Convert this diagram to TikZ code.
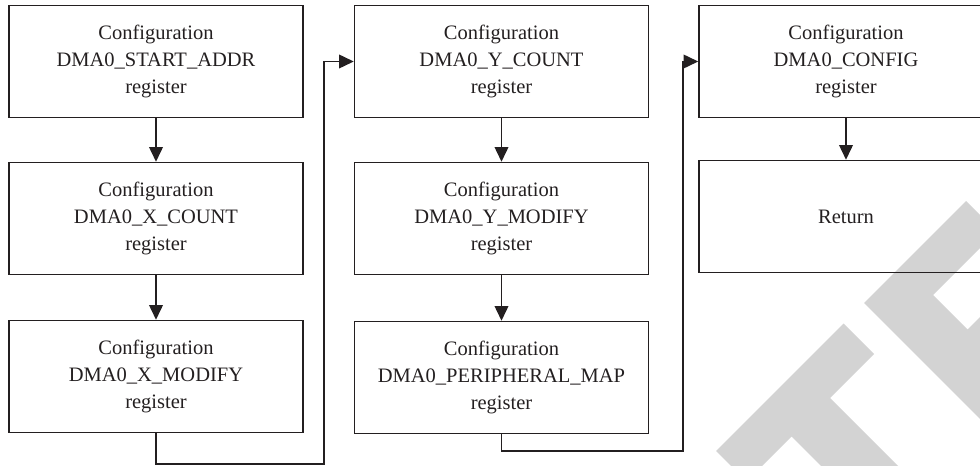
\documentclass[tikz,border=0pt]{standalone}
\usepackage{fontspec}
\setmainfont{Liberation Serif}
\usetikzlibrary{arrows.meta}
\definecolor{ink}{RGB}{35,31,32}
\definecolor{wmgray}{RGB}{211,211,211}

\begin{document}
\begin{tikzpicture}[x=0.3mm,y=-0.3mm,
  font=\fontsize{17.5}{23}\selectfont,
  stepbox/.style={draw=ink, line width=1.3pt, minimum width=88.2mm,
    minimum height=33.6mm, inner sep=0pt, align=center, text=ink},
  flow/.style={draw=ink, line width=1.3pt,
    -{Triangle[length=4.4mm,width=4.1mm]}}]
\useasboundingbox (0,0) rectangle (980,466);
\clip (0,0) rectangle (980,466);

% faint lettering in the background
\fill[wmgray] (716,451) -- (843.5,323.5) -- (874,354) -- (830,398)
  -- (966,534) -- (927.5,572.5) -- (791.5,436.5) -- (746.5,481.5) -- cycle;
\fill[wmgray] (864,303) -- (966,201) -- (996.5,231.5) -- (933,295)
  -- (967.5,329.5) -- (1028.5,268.5) -- (1180,420) -- (1080.5,519.5) -- cycle;

% first column
\node[stepbox] (sa) at (156,61.5) {Configuration\\DMA0\_START\_ADDR\\register};
\node[stepbox] (xc) at (156,218.5) {Configuration\\DMA0\_X\_COUNT\\register};
\node[stepbox] (xm) at (156,376.5) {Configuration\\DMA0\_X\_MODIFY\\register};

% second column
\node[stepbox] (yc) at (501.5,61.5) {Configuration\\DMA0\_Y\_COUNT\\register};
\node[stepbox] (ym) at (501.5,218.5) {Configuration\\DMA0\_Y\_MODIFY\\register};
\node[stepbox] (pm) at (501.5,377.5) {Configuration\\DMA0\_PERIPHERAL\_MAP\\register};

% third column
\node[stepbox] (cf) at (846,61.5) {Configuration\\DMA0\_CONFIG\\register};
\node[stepbox] (rt) at (846,216.5) {Return};

% connectors
\draw[flow] (sa) -- (xc);
\draw[flow] (xc) -- (xm);
\draw[flow] (yc) -- (ym);
\draw[flow] (ym) -- (pm);
\draw[flow] (cf) -- (rt);

\coordinate (j1) at (324,464);
\coordinate (j2) at (683,451);
\draw[flow] (xm.south) |- (j1) |- (yc.west);
\draw[flow] (pm.south) |- (j2) |- (cf.west);
\end{tikzpicture}
\end{document}
